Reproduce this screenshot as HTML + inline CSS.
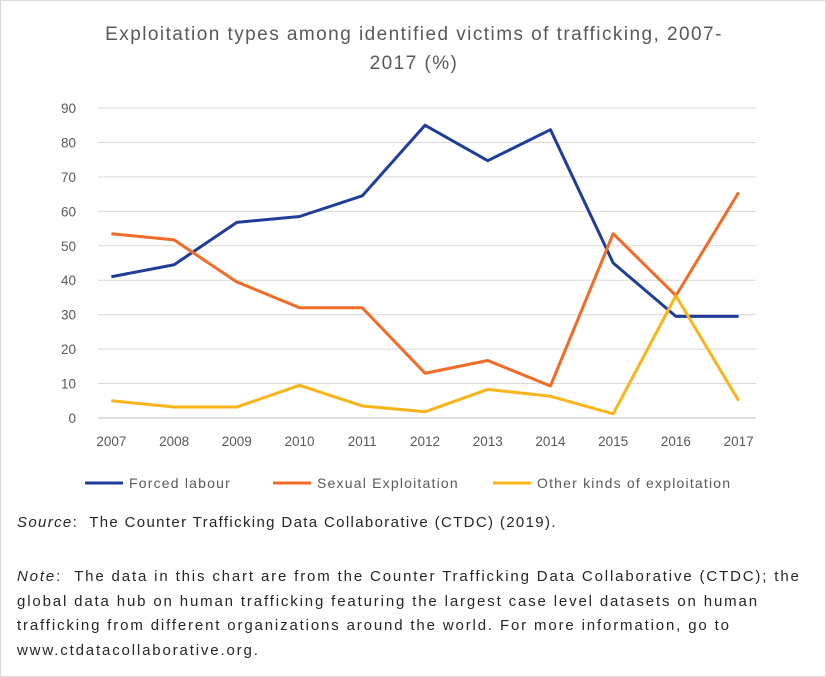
<!DOCTYPE html>
<html><head><meta charset="utf-8"><style>
body{margin:0;background:#fff;}
#wrap{position:relative;width:826px;height:677px;box-sizing:border-box;border:1px solid #d9d9d9;font-family:"Liberation Sans",sans-serif;color:#404040;overflow:hidden;}
.t{position:absolute;white-space:nowrap;}
</style></head><body>
<div id="wrap">
<div class="t" style="left:0;width:826px;top:19px;text-align:center;font-size:19px;letter-spacing:1.45px;line-height:29px;color:#595959;">Exploitation types among identified victims of trafficking, 2007-<br>2017 (%)</div>
<svg id="chart" width="826" height="500" style="position:absolute;left:0;top:0"></svg>
<div class="t" style="left:16px;top:513px;font-size:15px;letter-spacing:1.35px;color:#262626;"><i>Source</i>: &nbsp;The Counter Trafficking Data Collaborative (CTDC) (2019).</div>
<div class="t" style="left:16px;top:564px;font-size:15px;letter-spacing:1.85px;line-height:24.5px;color:#262626;"><i>Note</i>: &nbsp;The data in this chart are from the Counter Trafficking Data Collaborative (CTDC); the<br>global data hub on human trafficking featuring the largest case level datasets on human<br>trafficking from different organizations around the world. For more information, go to<br>www.ctdatacollaborative.org.</div>
</div>
<script>
const years=[2007,2008,2009,2010,2011,2012,2013,2014,2015,2016,2017];
const forced=[41,44.5,56.8,58.5,64.5,85,74.7,83.7,45,29.5,29.5];
const sexual=[53.5,51.7,39.5,32,32,13,16.7,9.3,53.5,35.5,65.5];
const other=[5,3.2,3.2,9.5,3.5,1.8,8.3,6.3,1.2,35.5,5];
const yTicks=[0,10,20,30,40,50,60,70,80,90];
const seriesNames=["Forced labour","Sexual Exploitation","Other kinds of exploitation"];
const colors=["#1f3e99","#f26b27","#fbb41a"];
const svg=document.getElementById('chart');
const NS='http://www.w3.org/2000/svg';
const x0=79,x1=769,yb=417,yt=107;
const xs=i=>x0+(x1-x0)*(i+0.5)/years.length;
const ys=v=>yb-(yb-yt)*v/90;
function mk(t,a){const e=document.createElementNS(NS,t);for(const k in a)e.setAttribute(k,a[k]);svg.appendChild(e);return e;}
yTicks.forEach(v=>{
 const g=mk('line',{x1:97,x2:755,y1:ys(v),y2:ys(v),stroke:v===0?'#bfbfbf':'#d9d9d9','stroke-width':1});
 
 
 const t=mk('text',{x:75,y:ys(v)+5,'text-anchor':'end','font-size':13.5,fill:'#595959','font-family':'Liberation Sans'});
 t.textContent=v;
 
 
});
years.forEach((y,i)=>{
 const t=mk('text',{x:xs(i),y:445,'text-anchor':'middle','font-size':13.5,fill:'#595959','font-family':'Liberation Sans'});
 t.textContent=y;
 
 
});
[forced,sexual,other].forEach((s,k)=>{
 const p=mk('polyline',{points:s.map((v,i)=>xs(i)+','+ys(v)).join(' '),fill:'none',stroke:colors[k],'stroke-width':3,'stroke-linejoin':'round'});
 
 
});
const lx=[84,272,492];
seriesNames.forEach((n,k)=>{
 const l=mk('line',{x1:lx[k],x2:lx[k]+38,y1:482,y2:482,stroke:colors[k],'stroke-width':3});
 
 
 const t=mk('text',{x:lx[k]+44,y:487,'font-size':14,'letter-spacing':1.2,fill:'#595959','font-family':'Liberation Sans'});
 t.textContent=n;
 
 
});
</script>
</body></html>
